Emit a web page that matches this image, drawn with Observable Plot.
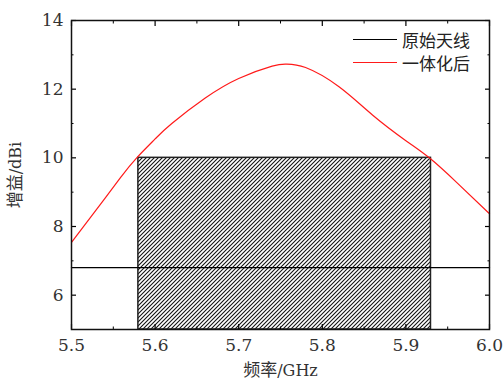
<!DOCTYPE html>
<html><head><meta charset="utf-8">
<script src="https://cdn.jsdelivr.net/npm/d3@7"></script>
<script src="https://cdn.jsdelivr.net/npm/@observablehq/plot@0.6"></script>
<style>
body{margin:0;background:#fff}
#wrap{position:relative;width:503px;height:379px}
#legend{position:absolute;left:353px;top:28px;font-family:'Noto Sans CJK SC',sans-serif;font-size:17px;color:#222;line-height:23px}
#legend .row{display:flex;align-items:center;white-space:nowrap}
#legend .sw{width:44px;height:0;border-top:1.4px solid;margin-right:5px}
</style>
</head><body><div id="wrap"><div id="legend"></div></div>
<script>
// Data
const freq = [5.500,5.540,5.560,5.578,5.600,5.620,5.660,5.700,5.740,5.757,5.780,5.820,5.860,5.900,5.928,5.960,6.000];
const gainIntegrated = [7.54,8.82,9.47,10.00,10.55,11.00,11.74,12.31,12.67,12.73,12.63,12.07,11.25,10.50,10.00,9.30,8.37];
const freqOriginal = [5.5, 6.0];
const gainOriginal = [6.8, 6.8];
const bandFreq = [5.58, 5.93];
const bandGain = [5, 10];
const xTicks = [5.5, 5.6, 5.7, 5.8, 5.9, 6.0];
const xMinor = [5.55, 5.65, 5.75, 5.85, 5.95];
const yTicks = [6, 8, 10, 12, 14];
const yMinor = [5, 7, 9, 11, 13];
const seriesNames = ["原始天线", "一体化后"];
const seriesColors = ["#000000", "#ff1a1a"];
const xLabelCJK = "频率", xLabelUnit = "/GHz";
const yLabelCJK = "增益", yLabelUnit = "/dBi";

const redData = freq.map((f, i) => ({x: f, y: gainIntegrated[i]}));
const origData = freqOriginal.map((f, i) => ({x: f, y: gainOriginal[i]}));
const bandData = [{x1: bandFreq[0], x2: bandFreq[1], y1: bandGain[0], y2: bandGain[1]}];
const blank = () => "";
const SERIF = "DejaVu Serif";
const CJK = "Noto Sans CJK SC";

const chart = Plot.plot({
  width: 503, height: 379,
  marginLeft: 71, marginRight: 14, marginTop: 20, marginBottom: 50,
  x: {domain: [5.5, 6.0]},
  y: {domain: [5, 14]},
  marks: [
    Plot.rect(bandData, {x1: "x1", x2: "x2", y1: "y1", y2: "y2", fill: "url(#hatch)", stroke: "#222", strokeWidth: 1.5}),
    Plot.line(origData, {x: "x", y: "y", stroke: seriesColors[0], strokeWidth: 1.3}),
    Plot.line(redData, {x: "x", y: "y", stroke: seriesColors[1], strokeWidth: 1.2, curve: "natural"}),
    Plot.text(xTicks, {x: d => d, frameAnchor: "bottom", lineAnchor: "middle", dy: 16, text: d => d.toFixed(1),
      fontFamily: SERIF, fontSize: 17, fill: "#333"}),
    Plot.text(yTicks, {y: d => d, frameAnchor: "left", textAnchor: "end", dx: -8, text: d => String(d),
      fontFamily: SERIF, fontSize: 17, fill: "#333"}),
    Plot.axisX(xTicks, {anchor: "bottom", tickSize: 0, tickFormat: blank, fill: "#333",
      label: xLabelCJK + xLabelUnit, labelAnchor: "center", labelOffset: 46, labelArrow: "none"}),
    Plot.axisY(yTicks, {anchor: "left", tickSize: 0, tickFormat: blank, fill: "#333",
      label: yLabelCJK + yLabelUnit, labelAnchor: "center", labelOffset: 58, labelArrow: "none"}),
    Plot.axisX(xTicks, {anchor: "bottom", tickSize: 5, dy: -5, tickFormat: blank, label: null, strokeWidth: 1.2}),
    Plot.axisX(xTicks, {anchor: "top", tickSize: 5, dy: 5, tickFormat: blank, label: null, strokeWidth: 1.2}),
    Plot.axisX(xMinor, {anchor: "bottom", tickSize: 2.5, dy: -2.5, tickFormat: blank, label: null}),
    Plot.axisX(xMinor, {anchor: "top", tickSize: 2.5, dy: 2.5, tickFormat: blank, label: null}),
    Plot.axisY(yTicks, {anchor: "left", tickSize: 5, dx: 5, tickFormat: blank, label: null, strokeWidth: 1.2}),
    Plot.axisY(yTicks, {anchor: "right", tickSize: 5, dx: -5, tickFormat: blank, label: null, strokeWidth: 1.2}),
    Plot.axisY(yMinor, {anchor: "left", tickSize: 2.5, dx: 2.5, tickFormat: blank, label: null}),
    Plot.axisY(yMinor, {anchor: "right", tickSize: 2.5, dx: -2.5, tickFormat: blank, label: null}),
    Plot.frame({stroke: "#111", strokeWidth: 1.5})
  ]
});

const defs = d3.select(chart).insert("defs", ":first-child");
const pat = defs.append("pattern").attr("id", "hatch").attr("patternUnits", "userSpaceOnUse").attr("width", 4).attr("height", 4);
pat.append("rect").attr("width", 4).attr("height", 4).attr("fill", "white");
pat.append("path").attr("d", "M-1,1 l2,-2 M0,4 l4,-4 M3,5 l2,-2").attr("stroke", "#111").attr("stroke-width", 1.1);

function splitLabel(sel, cjk, unit) {
  sel.each(function () {
    const t = d3.select(this);
    t.text("");
    t.append("tspan").style("font-family", CJK).style("font-size", "17px").text(cjk);
    t.append("tspan").style("font-family", SERIF).style("font-size", "16px").text(unit);
  });
}
splitLabel(d3.select(chart).selectAll("[aria-label='x-axis label'] text"), xLabelCJK, xLabelUnit);
splitLabel(d3.select(chart).selectAll("[aria-label='y-axis label'] text"), yLabelCJK, yLabelUnit);

document.getElementById("wrap").prepend(chart);
// apply serif font inline on each tick-number text element once in the document
d3.select(chart).selectAll("g[aria-label='text'] text").style("font-family", SERIF).style("font-size", "17px");

const legend = d3.select("#legend");
seriesNames.forEach((n, i) => {
  const row = legend.append("div").attr("class", "row");
  row.append("div").attr("class", "sw").style("border-top-color", seriesColors[i]);
  row.append("span").text(n);
});
</script>
</body></html>
